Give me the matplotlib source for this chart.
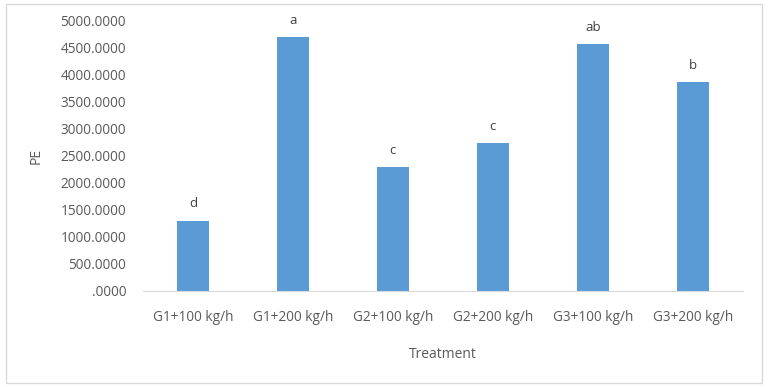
import matplotlib
matplotlib.use("Agg")
import matplotlib.pyplot as plt
from matplotlib.patches import Rectangle

categories = ["G1+100 kg/h", "G1+200 kg/h", "G2+100 kg/h", "G2+200 kg/h", "G3+100 kg/h", "G3+200 kg/h"]
values = [1300, 4700, 2290, 2730, 4570, 3860]
letters = ["d", "a", "c", "c", "ab", "b"]
yticks = [0, 500, 1000, 1500, 2000, 2500, 3000, 3500, 4000, 4500, 5000]

plt.rcParams['font.family'] = ['Open Sans', 'DejaVu Sans']
fig = plt.figure(figsize=(7.68, 3.87), dpi=100)
ax = fig.add_axes([0.186, 0.249, 0.781, 0.697])
x = list(range(len(categories)))
ax.bar(x, values, width=0.32, color="#5B9BD5")
for xi, v, l in zip(x, values, letters):
    ax.text(xi, v + 190, l, ha="center", va="bottom", fontsize=9.5, color="#404040")
ax.set_xlim(-0.5, len(categories) - 0.5)
ax.set_ylim(0, 5000)
ax.set_yticks(yticks)
ax.set_yticklabels([("%.4f" % t).lstrip("0") if t == 0 else "%.4f" % t for t in yticks])
ax.set_xticks(x)
ax.set_xticklabels(categories)
ax.tick_params(axis="both", length=0, labelsize=9.8, labelcolor="#595959")
ax.tick_params(axis="x", pad=14)
ax.tick_params(axis="y", pad=12)
for s in ["top", "right", "left"]:
    ax.spines[s].set_visible(False)
ax.spines["bottom"].set_color("#D9D9D9")
ax.set_xlabel("Treatment", fontsize=10, color="#595959", labelpad=16)
ax.set_ylabel("PE", fontsize=10, color="#595959", labelpad=12)
fig.patches.append(Rectangle((0.008, 0.01), 0.984, 0.98, transform=fig.transFigure,
                             fill=False, edgecolor="#D9D9D9", linewidth=1))
fig.savefig("out.png", dpi=100, facecolor="white")
